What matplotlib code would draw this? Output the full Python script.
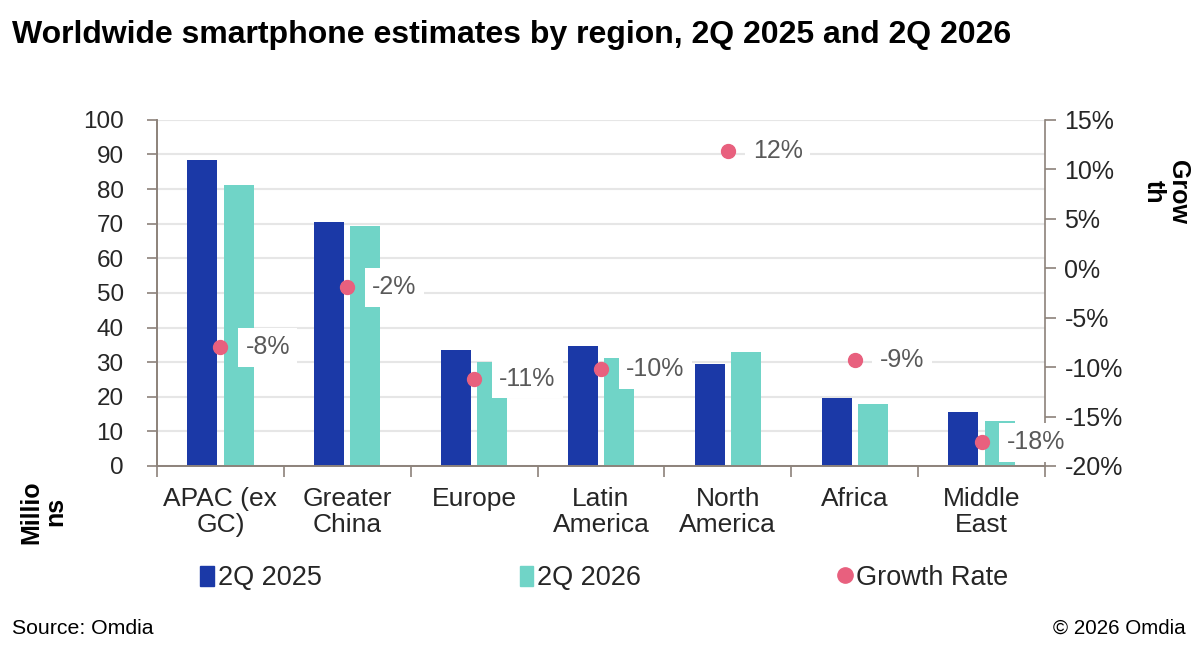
import numpy as np
import matplotlib.pyplot as plt
from matplotlib.lines import Line2D
from matplotlib.patches import Patch

plt.rcParams["font.family"] = ["Liberation Sans", "DejaVu Sans"]

# ---------------------------------- data ---------------------------------- #

regions = ["APAC (ex\nGC)", "Greater\nChina", "Europe", "Latin\nAmerica",
           "North\nAmerica", "Africa", "Middle\nEast"]
q2_2025 = [88.3, 70.5, 33.5, 34.7, 29.4, 19.7, 15.6]
q2_2026 = [81.3, 69.4, 30.0, 31.3, 32.9, 18.0, 13.0]
growth = [-8.0, -1.9, -11.2, -10.2, 11.9, -9.3, -17.6]
growth_labels = ["-8%", "-2%", "-11%", "-10%", "12%", "-9%", "-18%"]

# ---------------------------------- plot ---------------------------------- #

dark = "#1b39a7"
teal = "#70d4c7"
pink = "#e8607e"
spine_col = "#8c827a"
txt = "#262626"

fig = plt.figure(figsize=(11.92, 6.58), dpi=100)
ax = fig.add_axes([0.1317, 0.2918, 0.745, 0.526])
ax2 = ax.twinx()

x = np.arange(len(regions))
w = 0.236
ax.bar(x - 0.025 - w/2, q2_2025, w, color=dark, zorder=2)
ax.bar(x + 0.025 + w/2, q2_2026, w, color=teal, zorder=2)

ax.set_ylim(0, 100)
ax.set_yticks(np.arange(0, 101, 10))
ax.set_xlim(-0.5, len(regions) - 0.5)
ax.yaxis.grid(True, color="#e6e6e6", lw=1.5, zorder=0)
ax.set_axisbelow(True)

# category boundaries as ticks, names on minor ticks
ax.set_xticks(np.arange(-0.5, len(regions), 1.0))
ax.set_xticklabels([])
ax.set_xticks(x, minor=True)
ax.set_xticklabels(regions, minor=True, fontsize=19, color=txt, linespacing=1.1)
ax.tick_params(axis="x", which="major", length=8, color=spine_col, width=1.2)
ax.tick_params(axis="x", which="minor", length=0, pad=15)
ax.tick_params(axis="y", length=7, color=spine_col, width=1.2, labelsize=17.5,
               labelcolor=txt, pad=17)

ax2.plot(x, growth, 'o', ms=10, color=pink, zorder=5)
ax2.set_ylim(-20, 15)
ax2.set_yticks(np.arange(-20, 16, 5))
ax2.set_yticklabels(["%d%%" % v for v in range(-20, 16, 5)])
ax2.tick_params(axis="y", length=8, color=spine_col, width=1.2, labelsize=18,
                labelcolor=txt, pad=6)

for a in (ax, ax2):
    a.spines["top"].set_visible(False)
    for s in ("left", "right", "bottom"):
        a.spines[s].set_color(spine_col)
        a.spines[s].set_linewidth(1.2)
ax.spines["right"].set_visible(False)

for xi, g, lab in zip(x, growth, growth_labels):
    ax2.annotate(lab, (xi, g), xytext=(25, 0), textcoords="offset pixels",
                 ha="left", va="center", fontsize=18, color="#595959", zorder=6,
                 bbox=dict(boxstyle="square,pad=0.3", fc="white", ec="none"))

# axis titles
fig.text(0.036, 0.222, "Millio\nns", rotation=90, ha="center", va="center",
         fontsize=18, fontweight="bold", linespacing=1.0)
fig.text(0.978, 0.708, "Grow\nth", rotation=270, ha="center", va="center",
         fontsize=18, fontweight="bold", linespacing=1.0)

fig.text(0.010, 0.947, "Worldwide smartphone estimates by region, 2Q 2025 and 2Q 2026",
         fontsize=23, fontweight="bold", ha="left", va="center")
fig.text(0.010, 0.045, "Source: Omdia", fontsize=15.3, ha="left", va="center")
fig.text(0.995, 0.045, "\u00a9 2026 Omdia", fontsize=14.8, ha="right", va="center")

# legend, one entry per slot
handles = [Patch(color=dark), Patch(color=teal),
           Line2D([], [], marker="o", ls="none", ms=11, color=pink)]
names = ["2Q 2025", "2Q 2026", "Growth Rate"]
slots = [0.168, 0.436, 0.703]
for h, n, xs in zip(handles, names, slots):
    fig.legend([h], [n], loc="center left", bbox_to_anchor=(xs, 0.121),
               frameon=False, fontsize=19.5, handlelength=0.5, handleheight=0.8,
               handletextpad=0.15, borderpad=0, borderaxespad=0, labelcolor=txt)

plt.savefig("out.png", dpi=100)
